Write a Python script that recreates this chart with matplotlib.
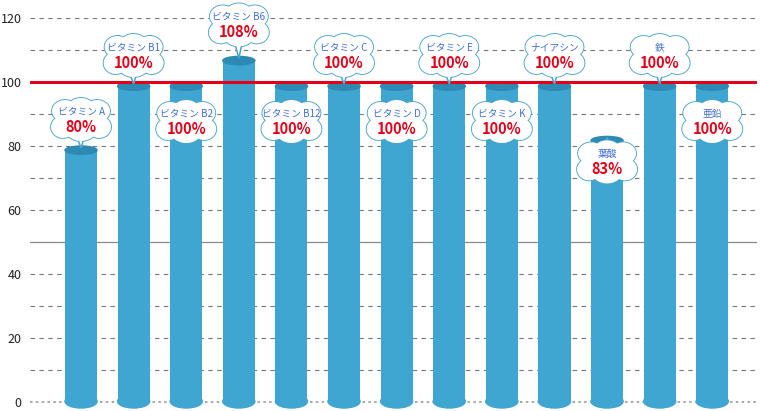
import matplotlib
matplotlib.use("Agg")
import matplotlib.pyplot as plt
from matplotlib.patches import Ellipse, Polygon
from matplotlib.transforms import ScaledTranslation

plt.rcParams["font.family"] = ["Noto Sans CJK JP", "DejaVu Sans"]

NUTRIENTS = ["ビタミン A", "ビタミン B1", "ビタミン B2", "ビタミン B6", "ビタミン B12",
             "ビタミン C", "ビタミン D", "ビタミン E", "ビタミン K", "ナイアシン",
             "葉酸", "鉄", "亜鉛"]
PERCENT = [80, 100, 100, 108, 100, 100, 100, 100, 100, 100, 83, 100, 100]
Y_TICKS = [0, 20, 40, 60, 80, 100, 120]

# bubble placement: True = above bar top, False = overlapping the bar
ABOVE = [True, True, False, True, False, True, False, True, False, True, False, True, False]

BAR_COLOR = "#3EA6D1"
TOP_COLOR = "#2D8AB2"
EDGE = "#4AA5CC"
BAR_W = 0.61
CAP_H = 2.6

# cloud lobes: (dx, dy, w, h) in inches
LOBES = [(0, 0, 0.50, 0.34),
         (-0.16, 0.09, 0.26, 0.22), (0.0, 0.11, 0.28, 0.22), (0.16, 0.09, 0.26, 0.22),
         (-0.18, -0.07, 0.24, 0.22), (0.0, -0.10, 0.30, 0.22), (0.18, -0.07, 0.24, 0.22)]

fig = plt.figure(figsize=(7.6, 4.11), dpi=100)
ax = fig.add_axes([30 / 760, 9 / 411, 727 / 760, 384 / 411])
ax.set_xlim(-0.97, 12.85)
ax.set_ylim(0, 120)

# grid
for v in range(10, 121, 10):
    if v == 50:
        ax.axhline(v, color="#888888", lw=0.9, zorder=1)
    elif v == 100:
        continue
    else:
        ax.axhline(v, color="#777777", lw=0.8, ls=(0, (4, 4)), zorder=1)
ax.axhline(0, color="#999999", lw=1.2, ls=(0, (1.5, 2)), zorder=1, clip_on=False)

x = list(range(len(NUTRIENTS)))
for xi, val in zip(x, PERCENT):
    top = val - CAP_H / 2
    ax.bar(xi, top, width=BAR_W, color=BAR_COLOR, zorder=2)
    ax.add_patch(Ellipse((xi, 0.2), BAR_W, CAP_H * 1.6, color=BAR_COLOR, zorder=2, clip_on=False))
    ax.add_patch(Ellipse((xi, top), BAR_W, CAP_H, color=TOP_COLOR, zorder=3))

ax.axhline(100, color="#E2001A", lw=2.2, zorder=4)

# speech bubbles (sizes in inches, anchored on the bar top)
for i, (xi, val, name, up) in enumerate(zip(x, PERCENT, NUTRIENTS, ABOVE)):
    z = 10 + 2 * i
    tr = fig.dpi_scale_trans + ScaledTranslation(xi, val, ax.transData)
    if up:
        cy = 0.26 if val != 108 else 0.31
        tail = [(-0.045, cy - 0.16), (0.035, cy - 0.16), (0.0, -0.02)]
    else:
        cy = -0.40 if val == 100 else -0.26
        tail = [(-0.03, cy + 0.14), (0.03, cy + 0.14), (0.0, cy + 0.25)]
    for dx, dy, w, h in LOBES:
        ax.add_patch(Ellipse((dx, cy + dy), w, h, fc="white", ec=EDGE, lw=1.3,
                             transform=tr, zorder=z, clip_on=False))
    ax.add_patch(Polygon(tail, closed=True, fc="white", ec=EDGE, lw=1.1,
                         transform=tr, zorder=z, clip_on=False))
    for dx, dy, w, h in LOBES:
        ax.add_patch(Ellipse((dx, cy + dy), w, h, fc="white", ec="none",
                             transform=tr, zorder=z + 0.5, clip_on=False))
    ax.text(0, cy + 0.085, name, transform=tr, ha="center", va="center",
            fontsize=7, color="#3F6FD6", zorder=z + 1)
    ax.text(0, cy - 0.07, f"{val}%", transform=tr, ha="center", va="center",
            fontsize=10.5, color="#E2001A", fontweight="bold", zorder=z + 1)

ax.set_xticks([])
ax.set_yticks(Y_TICKS)
ax.set_yticklabels([str(t) for t in Y_TICKS], fontsize=9, color="#222222")
ax.tick_params(axis="y", length=0, pad=6)
for s in ax.spines.values():
    s.set_visible(False)

fig.savefig("out.png", dpi=100, facecolor="white")
